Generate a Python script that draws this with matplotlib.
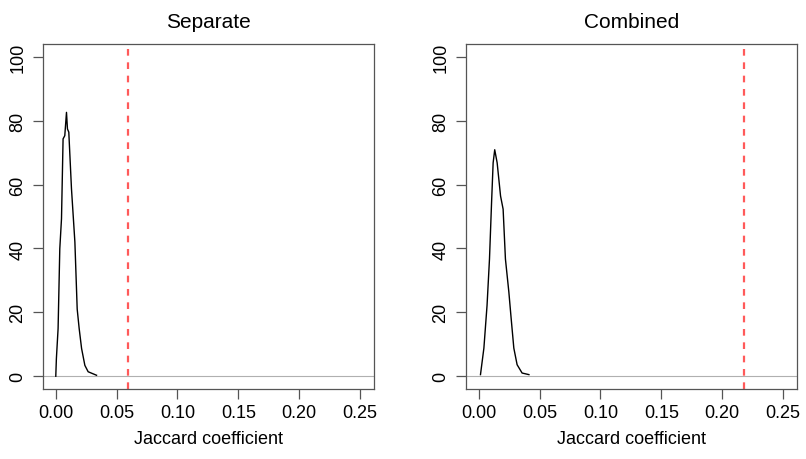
import matplotlib
matplotlib.use("Agg")
import matplotlib.pyplot as plt

plt.rcParams.update({
    "font.family": ["Liberation Sans", "DejaVu Sans"],
    "font.size": 13,
})

# Separate panel: density of Jaccard coefficient under permutation
sep_x = [0.0, 0.0005, 0.0019, 0.0033, 0.0047, 0.0060, 0.0074, 0.0088, 0.0096,
         0.0107, 0.0129, 0.0157, 0.0176, 0.0192, 0.0212, 0.0239, 0.0266, 0.0335]
sep_y = [0, 5.5, 14.9, 39.9, 49.3, 74.3, 75.3, 82.6, 77.4,
         76.4, 58.7, 42.0, 21.0, 15.0, 8.7, 3.4, 1.4, 0.3]
sep_obs = 0.059

# Combined panel
comb_x = [0.0014, 0.0042, 0.0068, 0.0088, 0.0105, 0.0118, 0.0131, 0.0151, 0.0179,
          0.0200, 0.0219, 0.0247, 0.0266, 0.0288, 0.0315, 0.0356, 0.0412]
comb_y = [0.5, 8.8, 22.2, 36.7, 54.3, 66.8, 70.9, 66.8, 56.4,
          52.3, 36.7, 26.4, 18.1, 8.8, 3.6, 1.0, 0.5]
comb_obs = 0.218

panels = [
    ("Separate", sep_x, sep_y, sep_obs),
    ("Combined", comb_x, comb_y, comb_obs),
]
x_ticks = [0.00, 0.05, 0.10, 0.15, 0.20, 0.25]
y_ticks = [0, 20, 40, 60, 80, 100]

fig = plt.figure(figsize=(8.06, 4.6), dpi=100)
lefts = [43 / 806, 466 / 806]
for left, (title, xs, ys, obs) in zip(lefts, panels):
    ax = fig.add_axes([left, 1 - 390 / 460, 331 / 806, 345 / 460])
    ax.axhline(0, color="#b0b0b0", linewidth=0.8, zorder=1)
    ax.plot(xs, ys, color="black", linewidth=1.0, zorder=3)
    ax.axvline(obs, color="#ff5a5a", linestyle=(0, (3, 3)), linewidth=1.6, zorder=2)
    ax.set_xlim(-0.0105, 0.2615)
    ax.set_ylim(-4, 104)
    ax.set_xticks(x_ticks)
    ax.set_xticklabels([f"{t:.2f}" for t in x_ticks])
    ax.set_yticks(y_ticks)
    ax.set_yticklabels([str(t) for t in y_ticks], rotation=90, va="center")
    ax.tick_params(direction="out", length=7, width=0.9, color="#555555",
                   labelsize=13, pad=4)
    ax.tick_params(axis="y", pad=5)
    for s in ax.spines.values():
        s.set_color("#555555")
        s.set_linewidth(0.9)
    ax.set_xlabel("Jaccard coefficient", fontsize=13, labelpad=6)
    ax.set_title(title, fontsize=15, pad=12)

fig.savefig("out.png", dpi=100)
